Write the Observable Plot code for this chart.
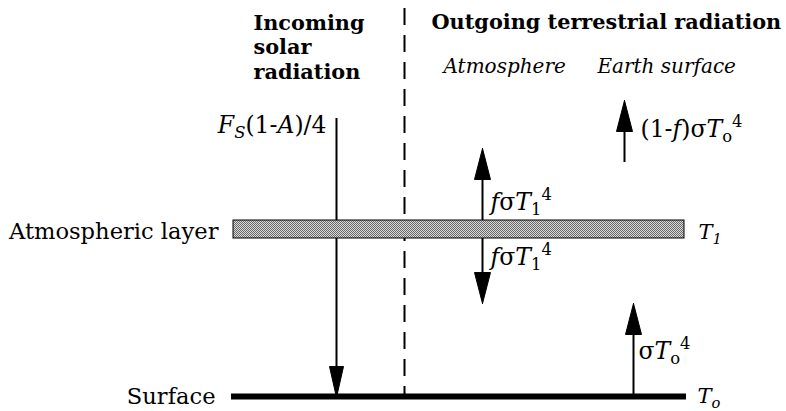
<!DOCTYPE html>
<html>
<head>
<meta charset="utf-8">
<script src="https://cdn.jsdelivr.net/npm/d3@7"></script>
<script src="https://cdn.jsdelivr.net/npm/@observablehq/plot@0.6"></script>
<style>
  html, body { margin: 0; padding: 0; background: #fff; }
  svg { display: block; }
</style>
</head>
<body>
<div id="chart"></div>
<script>
// ---- Diagram data (diagram coordinates: x to the right, y downward) ----
const titleLines = [
  {text: "Incoming", x: 253, y: 29},
  {text: "solar", x: 253, y: 53},
  {text: "radiation", x: 253, y: 78},
  {text: "Outgoing terrestrial radiation", x: 431, y: 28}
];
const columnHeads = [
  {text: "*Atmosphere*", x: 443, y: 72},
  {text: "*Earth surface*", x: 597, y: 72}
];
const layers = [
  {name: "Atmospheric layer", temp: "*T*_{*1*}", x1: 233, x2: 684, y1: 220, y2: 238}
];
const surfaces = [
  {name: "Surface", temp: "*T*_{*o*}", x1: 231, x2: 686, y: 396}
];
const fluxes = [
  {label: "*F*_{*S*}(1-*A*)/4", x: 336, from: 118, to: 397, lx: 326, ly: 132, side: "left"},
  {label: "(1-*f*)σ*T*_{o}^{4}", x: 624, from: 162, to: 100, lx: 640, ly: 136, side: "right"},
  {label: "*f*σ*T*_{1}^{4}", x: 482, from: 220, to: 148, lx: 490, ly: 209, side: "right"},
  {label: "*f*σ*T*_{1}^{4}", x: 482, from: 238, to: 303, lx: 490, ly: 264, side: "right"},
  {label: "σ*T*_{o}^{4}", x: 633, from: 396, to: 303, lx: 638, ly: 358, side: "right"}
];
const divider = [{x: 404, y1: 8, y2: 396}];

// ---- Drawing ----
const W = 786, H = 411;
const HEAD_LEN = 31, HEAD_W = 16;
const dir = d => Math.sign(d.to - d.from);
const heads = fluxes.flatMap((d, i) => {
  const b = d.to - dir(d) * HEAD_LEN;
  const w = i === 0 ? 14 : HEAD_W;
  return [
    {id: i, x: d.x, y: d.to},
    {id: i, x: d.x - w / 2, y: b},
    {id: i, x: d.x + w / 2, y: b},
    {id: i, x: d.x, y: d.to}
  ];
});

const svg = Plot.plot({
  width: W,
  height: H,
  margin: 0,
  x: {domain: [0, W], range: [0, W], axis: null},
  y: {domain: [0, H], range: [0, H], axis: null},
  style: {fontFamily: "'DejaVu Serif', serif", background: "#fff", color: "#000"},
  marks: [
    Plot.ruleX(divider, {x: "x", y1: "y1", y2: "y2", stroke: "#000", strokeWidth: 2, strokeDasharray: "17,10"}),
    Plot.ruleX(fluxes, {x: "x", y1: "from", y2: d => d.to - dir(d) * HEAD_LEN * 0.5, stroke: "#000", strokeWidth: 2}),
    Plot.rect(layers, {x1: "x1", x2: "x2", y1: "y1", y2: "y2", fill: "url(#hatch)", stroke: "#000", strokeWidth: 1}),
    Plot.ruleY(surfaces, {y: "y", x1: "x1", x2: "x2", stroke: "#000", strokeWidth: 6}),
    Plot.line(heads, {x: "x", y: "y", z: "id", fill: "#000", stroke: "#000", strokeWidth: 1, strokeLinejoin: "miter"}),
    Plot.text(titleLines, {x: "x", y: "y", text: "text", textAnchor: "start", lineAnchor: "bottom", fontWeight: "bold", fontSize: 20.8, fill: "#000"}),
    Plot.text(columnHeads, {x: "x", y: "y", text: "text", textAnchor: "start", lineAnchor: "bottom", fontSize: 20, fill: "#000"}),
    Plot.text(layers, {x: d => d.x1 - 15, y: "y2", text: "name", textAnchor: "end", lineAnchor: "bottom", fontSize: 22.6, fill: "#000"}),
    Plot.text(layers, {x: d => d.x2 + 14, y: "y2", text: "temp", textAnchor: "start", lineAnchor: "bottom", fontSize: 21, fill: "#000"}),
    Plot.text(surfaces, {x: d => d.x1 - 16, y: d => d.y + 7, text: "name", textAnchor: "end", lineAnchor: "bottom", fontSize: 22.6, fill: "#000"}),
    Plot.text(surfaces, {x: d => d.x2 + 11, y: d => d.y + 6, text: "temp", textAnchor: "start", lineAnchor: "bottom", fontSize: 21, fill: "#000"}),
    Plot.text(fluxes.filter(d => d.side === "left"), {x: "lx", y: "ly", text: "label", textAnchor: "end", lineAnchor: "bottom", fontSize: 23.5, fill: "#000"}),
    Plot.text(fluxes.filter(d => d.side === "right"), {x: "lx", y: "ly", text: "label", textAnchor: "start", lineAnchor: "bottom", fontSize: 23.5, fill: "#000"})
  ]
});
document.getElementById("chart").appendChild(svg);

// hatch pattern for the atmospheric layer
const ns = "http://www.w3.org/2000/svg";
const defs = document.createElementNS(ns, "defs");
defs.innerHTML = `<pattern id="hatch" width="2" height="2" patternUnits="userSpaceOnUse">
  <rect width="2" height="2" fill="#d8d8d8"/>
  <rect width="1" height="1" fill="#6a6a6a"/>
  <rect x="1" y="1" width="1" height="1" fill="#6a6a6a"/>
</pattern>`;
svg.insertBefore(defs, svg.firstChild);

// rich text: *italic*, _{sub}, ^{sup}
function richify(t) {
  const src = t.textContent;
  if (!/[*_^]/.test(src)) return;
  const fs = parseFloat(getComputedStyle(t).fontSize) || 20;
  const runs = [];
  let italic = false, mode = null, buf = "";
  const flush = () => { if (buf) runs.push({s: buf, italic, mode}); buf = ""; };
  for (let i = 0; i < src.length; i++) {
    const c = src[i];
    if (c === "*") { flush(); italic = !italic; }
    else if ((c === "_" || c === "^") && src[i + 1] === "{") { flush(); mode = c === "_" ? "sub" : "sup"; i++; }
    else if (c === "}" && mode) { flush(); mode = null; }
    else buf += c;
  }
  flush();
  while (t.firstChild) t.removeChild(t.firstChild);
  let cur = 0;
  for (const r of runs) {
    const ts = document.createElementNS(ns, "tspan");
    ts.textContent = r.s;
    ts.setAttribute("font-style", r.italic ? "italic" : "normal");
    const target = r.mode === "sub" ? 0.25 * fs : r.mode === "sup" ? -0.4 * fs : 0;
    if (r.mode) ts.setAttribute("font-size", (0.7 * fs).toFixed(1));
    if (target !== cur) ts.setAttribute("dy", (target - cur).toFixed(1));
    cur = target;
    t.appendChild(ts);
  }
}
svg.querySelectorAll("text").forEach(richify);
</script>
</body>
</html>
